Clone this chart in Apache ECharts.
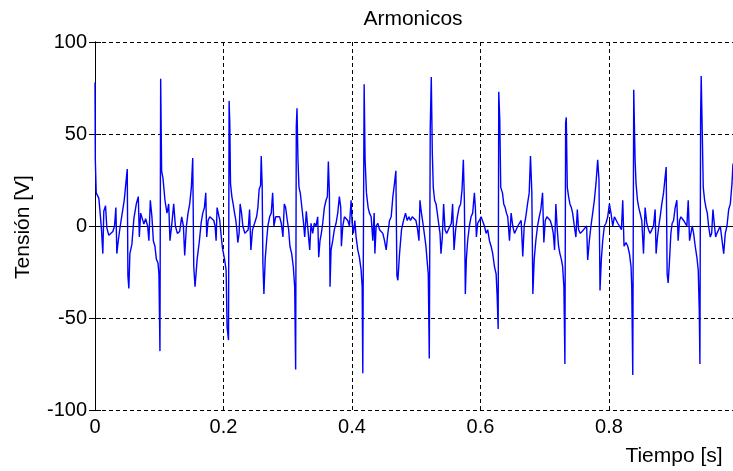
<!DOCTYPE html>
<html>
<head>
<meta charset="utf-8">
<title>Armonicos</title>
<script src="https://cdn.jsdelivr.net/npm/echarts@6/dist/echarts.min.js"></script>
<style>
  html, body { margin: 0; padding: 0; background: #fff; }
  #chart { width: 733px; height: 471px; }
</style>
</head>
<body>
<div id="chart"></div>
<script>
// Sampled voltage waveform (time in s, voltage in V), stored in consecutive stretches.
const t1 = [0, 0.0005, 0.0019, 0.006, 0.008, 0.0101, 0.0122, 0.0137, 0.0164, 0.0184, 0.0215, 0.0246, 0.0278, 0.0304, 0.0325, 0.034, 0.0362, 0.0393, 0.0424, 0.0455, 0.048, 0.0502, 0.0512, 0.0527, 0.0543, 0.0574, 0.0605, 0.0643, 0.0674, 0.069, 0.071, 0.0736, 0.0761, 0.0788, 0.0819, 0.0839, 0.0861, 0.0886, 0.0908, 0.0933, 0.0955, 0.098, 0.0995, 0.1011, 0.1022, 0.1037, 0.1058, 0.1089, 0.112, 0.1147, 0.1167, 0.1198, 0.1225, 0.1251, 0.1282, 0.1318, 0.1349, 0.1376, 0.1396, 0.1423, 0.1448, 0.1474, 0.15, 0.1521, 0.1537, 0.1557, 0.159];
const v1 = [78, 36, 18, 15, 7, -2, -15, 8, 11, -1, -5, -6, -3, 0, 10, -15, -8, 0, 7, 14, 23, 31, -27, -34, -15, -10, 4, 12, 16, -6, 7, 4, 1, 4, 0, -8, 14, 5, -8, -11, -18, -20, -26, -68, 80, 30, 26, 14, 7, 12, -8, 2, 12, 0, -4, -3, 5, 0, -16, 0, 7, 12, 21, 37, -22, -33, -18];

const t2 = [0.1625, 0.1651, 0.1677, 0.1703, 0.1724, 0.1739, 0.176, 0.1786, 0.1817, 0.1849, 0.1869, 0.1885, 0.19, 0.1922, 0.1942, 0.1963, 0.1984, 0.2016, 0.2041, 0.2056, 0.2078, 0.2087, 0.2098, 0.2109, 0.213, 0.215, 0.2172, 0.2192, 0.2207, 0.2223, 0.2243, 0.2259, 0.2281, 0.2301, 0.2332, 0.2363, 0.2384, 0.2406, 0.2426, 0.2452, 0.2484, 0.2515, 0.2535, 0.2555, 0.2577, 0.2587, 0.2602, 0.2613, 0.2629, 0.2649, 0.2671, 0.2691, 0.2718, 0.2743, 0.2765, 0.2785, 0.2811, 0.2842, 0.2874, 0.2899, 0.2925, 0.2946, 0.2967, 0.2993, 0.3014, 0.3034, 0.3061, 0.3086, 0.3108, 0.3123, 0.3133, 0.3144, 0.3159, 0.3175, 0.3195, 0.3217, 0.3242, 0.3264, 0.3289, 0.3315, 0.3342];
const v2 = [-8, 1.5, 7, 10, 18, -6, 3, 5, 5, 3, 0, -8, 10, 10, 3, -5, -12, -18, -24, -55, -62, 68, 56, 23, 16, 12, 7, 3, -2, -9, -4, 12, 7, 0, -4, -4, -2, 9, -13, -2, 1.5, 5, 10, 20, 22, 38, 22, -20, -37, -18, -8, 0, 5, 7, 18, 0, 5, 5, 5, 1.5, -6, 12, 10, 3, -2, -11, -15, -22, -33, -78, 54, 64, 36, 21, 18, 11, 3, -6, 8, 7, -13];

const t3 = [0.3362, 0.3388, 0.3413, 0.344, 0.3466, 0.3482, 0.3502, 0.3523, 0.3544, 0.357, 0.3596, 0.3617, 0.3632, 0.3648, 0.3658, 0.3674, 0.37, 0.3725, 0.3752, 0.3778, 0.3803, 0.3825, 0.3835, 0.3857, 0.3882, 0.3908, 0.3934, 0.396, 0.3986, 0.4002, 0.4022, 0.4044, 0.4064, 0.409, 0.4115, 0.4142, 0.4158, 0.4168, 0.4189, 0.4204, 0.4225, 0.4251, 0.4272, 0.4298, 0.4324, 0.4345, 0.4356, 0.4376, 0.4402, 0.4428, 0.4454, 0.448, 0.4506, 0.4532, 0.4558, 0.4584, 0.461, 0.4636, 0.4661, 0.4683, 0.4699, 0.4714, 0.474, 0.4771, 0.4802, 0.4833, 0.486, 0.4886, 0.4911, 0.4938, 0.4969];
const v3 = [1.5, -4, 1.5, 0, 5, -17, -8, -4, 1.5, 10, 14, 16, 35, 18, -33, -13, -8, -2, 1.5, 7, 16, 10, -11, 0, 5, 5, 3, 0, 14, 1.5, -4, 3, -6, -13, -17, -24, -33, -80, 77, 36, 18, 10, 7, 5, -8, 7, -15, 0, 1.5, -2, -2, -4, -8, -13, -4, 3, 5, 16, 23, 30, -27, -29.5, -15, -2, 3, 7, 3, 5, 3, 5, 5];

const t4 = [0.4995, 0.5021, 0.5042, 0.5058, 0.5073, 0.5098, 0.5125, 0.5151, 0.5167, 0.5187, 0.5203, 0.5218, 0.5234, 0.525, 0.5265, 0.5286, 0.5308, 0.5328, 0.5348, 0.537, 0.5385, 0.5406, 0.5426, 0.5448, 0.5473, 0.5499, 0.5526, 0.5546, 0.5566, 0.5588, 0.5613, 0.564, 0.5666, 0.5691, 0.5713, 0.5733, 0.5749, 0.5764, 0.578, 0.58, 0.5827, 0.5853, 0.5878, 0.5905, 0.592, 0.5936, 0.5956, 0.5983, 0.6009, 0.6034, 0.6061, 0.6087, 0.6112, 0.6139, 0.6165, 0.619, 0.6217, 0.6243, 0.6259, 0.6275, 0.6284, 0.63, 0.6315, 0.6342, 0.6362, 0.6384, 0.6404, 0.6424, 0.6451, 0.6477, 0.6502, 0.6529, 0.6555, 0.658, 0.6607, 0.6633, 0.6658];
const v4 = [3, -2, -8, 14, 9, 3, -4, -11, -18, -26, -72, 54, 81, 40, 21, 14, 12, 7, 1.5, -4, -15, -6, 12, -2, -4, -2, 0, 1.5, 12, -13, -2, 5, 10, 12, 20, 36, 14, -37, -18, -8, 0, 5, 7, 18, 10, -6, 1.5, 3, 5, 5, 0, -4, -2, -8, -11, -15, -22, -26, -38, -56, 73, 58, 21, 18, 12, 10, 7, 5, -8, 7, 0, -4, -2, 0, 0, 3, -16.5];

const t5 = [0.668, 0.6705, 0.6732, 0.6758, 0.6778, 0.6799, 0.6815, 0.6836, 0.6861, 0.6888, 0.6914, 0.6939, 0.6966, 0.6986, 0.7008, 0.7033, 0.7059, 0.7086, 0.7111, 0.7133, 0.7153, 0.7173, 0.7195, 0.7215, 0.7236, 0.7258, 0.7278, 0.7298, 0.7314, 0.7325, 0.7335, 0.7351, 0.7371, 0.7392, 0.7414, 0.7434, 0.746, 0.7485, 0.7507, 0.7527, 0.7554, 0.7579, 0.7605, 0.7632, 0.7652, 0.7668, 0.7694, 0.7719, 0.7746, 0.7772, 0.7797, 0.7824, 0.7844, 0.786, 0.7881, 0.7902, 0.7928, 0.7953, 0.798, 0.8006, 0.8031, 0.8058, 0.8084, 0.8109, 0.8136, 0.8162, 0.8193, 0.8214, 0.8234, 0.8265, 0.8292, 0.8318, 0.8343, 0.8354, 0.837, 0.8385];
const v5 = [0, 5, 12, 18, 38, 18, -37, -18, -8, 0, 5, 9, 18, -9, 3, 5, 5, 3, 0, -4, -13, 12, -2, -11, -15, -18, -22, -33, -75, 56, 59, 21, 16, 12, 10, 7, 0, -6, 9, -2, -4, -4, -2, -2, 0, -18.5, -8, 0, 7, 14, 23, 36, 25, -35, -18, -8, 0, 1.5, 5, 12, 7, 0, 5, 5, 1.5, 0, -2, 14, -11, -9, -11, -15, -22, -33, -81, 74];

const t6 = [0.8406, 0.8421, 0.8443, 0.8463, 0.8484, 0.851, 0.8537, 0.8562, 0.8588, 0.8615, 0.864, 0.8666, 0.8693, 0.8718, 0.8733, 0.8755, 0.8775, 0.8796, 0.8822, 0.8849, 0.8869, 0.889, 0.8905, 0.8921, 0.8943, 0.8963, 0.8983, 0.9005, 0.903, 0.9056, 0.9076, 0.9098, 0.9119, 0.9139, 0.9161, 0.9186, 0.9212, 0.9233, 0.9254, 0.9275, 0.9295, 0.9317, 0.9342, 0.9368, 0.9389, 0.9405, 0.9415, 0.9426, 0.9435, 0.9451, 0.9467, 0.9488, 0.9509, 0.953, 0.955, 0.9576, 0.9598, 0.9618, 0.9638, 0.966, 0.968, 0.9707, 0.9732, 0.9758, 0.9785, 0.981, 0.9836, 0.9863, 0.9888, 0.9914, 0.993];
const v6 = [36, 23, 14, 10, 7, 3, -15, 10, 1.5, -2, -4, -4, 0, 9, -15, -6, 0, 5, 12, 18, 25, 32, -26, -31, -18, -4, 1.5, 3, 10, 14, -8, 3, 5, 5, 3, 3, 0, 14, -8, -4, 0, -4, -11, -17, -24, -46, -75, 60, 81.5, 52, 21, 14, 10, 7, 0, -6, -4, 9, 1.5, -6, -4, -4, 0, 0, -15, -4, 0, 9, 12, 23, 34];

const xTicks = [0, 0.2, 0.4, 0.6, 0.8];
const yTicks = [-100, -50, 0, 50, 100];
const titleText = 'Armonicos';
const xName = 'Tiempo [s]';
const yName = 'Tensión [V]';

const FONT = "'Liberation Sans', Arial, Helvetica, sans-serif";

const stretches = [[t1, v1], [t2, v2], [t3, v3], [t4, v4], [t5, v5], [t6, v6]];
const samples = [];
stretches.forEach(function (pair, k) {
  const ts = pair[0], vs = pair[1];
  if (ts.length !== vs.length) {
    throw new Error('length mismatch in stretch ' + (k + 1) + ': ' + ts.length + ' vs ' + vs.length);
  }
  ts.forEach(function (t, i) { samples.push([t, vs[i]]); });
});

const chart = echarts.init(document.getElementById('chart'), null, { renderer: 'canvas' });

const gridDash = { color: '#000', width: 1, type: [4, 3] };
const spine = { show: true, lineStyle: { color: '#000', width: 1 } };
const ticksIn = { show: true, inside: true, length: 6, lineStyle: { color: '#000', width: 1 } };

chart.setOption({
  animation: false,
  backgroundColor: '#fff',
  // the time axis runs to 1 s, a little past the right edge of the page
  grid: { left: 95, right: -4.5, top: 42, bottom: 61, containLabel: false, outerBoundsMode: 'none' },
  xAxis: [
    {
      type: 'value', position: 'bottom', min: 0, max: 1, interval: 0.2,
      axisLine: spine, axisTick: ticksIn,
      axisLabel: {
        color: '#000', fontSize: 20, fontFamily: FONT, margin: 7,
        formatter: function (v) {
          const hit = xTicks.find(function (x) { return Math.abs(x - v) < 1e-9; });
          return hit === undefined ? '' : String(hit);
        }
      },
      splitLine: { show: true, lineStyle: gridDash }
    },
    {
      type: 'value', position: 'top', min: 0, max: 1, interval: 0.2,
      axisLine: spine, axisTick: ticksIn,
      axisLabel: { show: false }, splitLine: { show: false }
    }
  ],
  yAxis: [
    {
      type: 'value', position: 'left', min: yTicks[0], max: yTicks[yTicks.length - 1], interval: 50,
      axisLine: spine, axisTick: ticksIn,
      axisLabel: { color: '#000', fontSize: 20, fontFamily: FONT, margin: 8 },
      splitLine: { show: true, lineStyle: gridDash }
    },
    {
      type: 'value', position: 'right', min: yTicks[0], max: yTicks[yTicks.length - 1], interval: 50,
      axisLine: spine, axisTick: ticksIn,
      axisLabel: { show: false }, splitLine: { show: false }
    }
  ],
  graphic: [
    {
      type: 'text', x: 413, y: 19.5,
      style: { text: titleText, fill: '#000', font: '21px ' + FONT, align: 'center', verticalAlign: 'middle' }
    },
    {
      type: 'text', x: 674, y: 456,
      style: { text: xName, fill: '#000', font: '21px ' + FONT, align: 'center', verticalAlign: 'middle' }
    },
    {
      type: 'text', x: 23, y: 227, rotation: Math.PI / 2,
      style: { text: yName, fill: '#000', font: '21px ' + FONT, align: 'center', verticalAlign: 'middle' }
    }
  ],
  series: [
    {
      type: 'line',
      xAxisIndex: 0, yAxisIndex: 0,
      data: samples,
      showSymbol: false,
      symbol: 'none',
      clip: true,
      lineStyle: { color: '#0000ff', width: 1.4 },
      z: 3
    }
  ]
});
</script>
</body>
</html>
